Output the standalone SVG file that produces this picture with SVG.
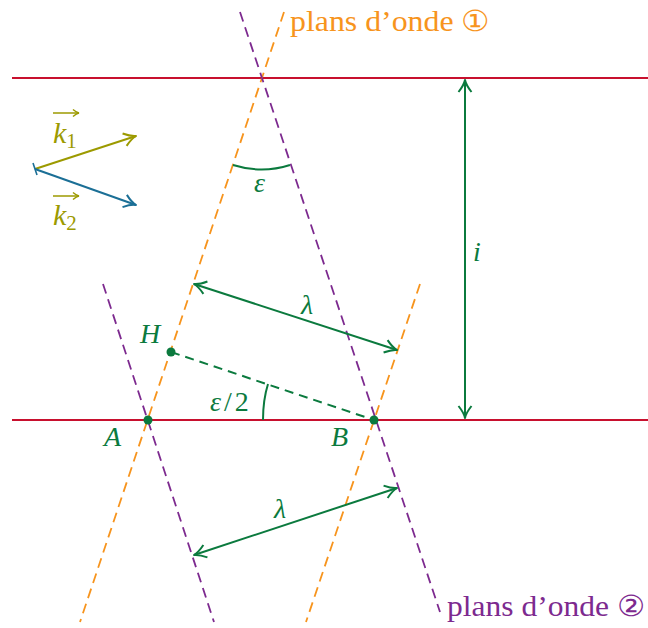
<svg xmlns="http://www.w3.org/2000/svg" width="648" height="628" viewBox="0 0 648 628">
<style>
.red{stroke:#c8102e;stroke-width:1.8;fill:none}
.or{stroke:#f7941d;stroke-width:1.8;fill:none;stroke-dasharray:10 6}
.pu{stroke:#7d2a8f;stroke-width:1.8;fill:none;stroke-dasharray:10 6}
.gr{stroke:#0b7a3e;stroke-width:2;fill:none}
.t{font-family:"Liberation Serif","DejaVu Serif",serif;font-size:29px}
.m{font-family:"Liberation Serif","DejaVu Serif",serif;font-style:italic;font-size:28px;fill:#0b7a3e}
</style>
<defs>
<marker id="ag" viewBox="-13 -8 15 16" markerWidth="15" markerHeight="16" refX="0" refY="0" orient="auto-start-reverse" markerUnits="userSpaceOnUse">
<path d="M-12,-6.5 Q-5,-1 0,0 Q-5,1 -12,6.5" fill="none" stroke="#0b7a3e" stroke-width="2" stroke-linejoin="round"/>
</marker>
<marker id="ao" viewBox="-13 -8 15 16" markerWidth="15" markerHeight="16" refX="0" refY="0" orient="auto" markerUnits="userSpaceOnUse">
<path d="M-12,-6.5 Q-5,-1 0,0 Q-5,1 -12,6.5" fill="none" stroke="#9c9a00" stroke-width="2" stroke-linejoin="round"/>
</marker>
<marker id="ab" viewBox="-13 -8 15 16" markerWidth="15" markerHeight="16" refX="0" refY="0" orient="auto" markerUnits="userSpaceOnUse">
<path d="M-12,-6.5 Q-5,-1 0,0 Q-5,1 -12,6.5" fill="none" stroke="#1b6f96" stroke-width="2" stroke-linejoin="round"/>
</marker>
<marker id="as" viewBox="-7 -5 8 10" markerWidth="8" markerHeight="10" refX="0" refY="0" orient="auto" markerUnits="userSpaceOnUse">
<path d="M-6,-3.5 Q-2.5,-0.5 0,0 Q-2.5,0.5 -6,3.5" fill="none" stroke="#9c9a00" stroke-width="1.5"/>
</marker>
</defs>

<g id="interfaces">
<line class="red" x1="12" y1="78" x2="648" y2="78"/>
<line class="red" x1="12" y1="420" x2="648" y2="420"/>
</g>

<g id="plans1">
<line class="or" x1="284" y1="12" x2="80" y2="622"/>
<line class="or" x1="420" y1="284" x2="306" y2="622"/>
<text class="t" x="290" y="31" fill="#f7941d" textLength="200" lengthAdjust="spacingAndGlyphs">plans d’onde ①</text>
</g>

<g id="plans2">
<line class="pu" x1="240" y1="12" x2="440" y2="612"/>
<line class="pu" x1="103" y1="284" x2="214" y2="622"/>
<text class="t" x="447" y="616" fill="#7d2a8f" textLength="198" lengthAdjust="spacingAndGlyphs">plans d’onde ②</text>
</g>

<g id="connectors">
<line class="gr" x1="465" y1="80" x2="465" y2="418" marker-start="url(#ag)" marker-end="url(#ag)"/>
<line class="gr" x1="194" y1="284" x2="397" y2="350" marker-start="url(#ag)" marker-end="url(#ag)"/>
<line class="gr" x1="194" y1="555" x2="397" y2="488" marker-start="url(#ag)" marker-end="url(#ag)"/>
<line class="gr" x1="171" y1="352" x2="374" y2="420" stroke-dasharray="9 6"/>
<path class="gr" d="M233,165 Q262,174 290,165"/>
<path class="gr" d="M263,420 Q263,400 268,384"/>
<line x1="35" y1="169" x2="136" y2="136" stroke="#9c9a00" stroke-width="2" marker-end="url(#ao)"/>
<line x1="35" y1="169" x2="136" y2="205" stroke="#1b6f96" stroke-width="2" marker-end="url(#ab)"/>
<line x1="33" y1="163" x2="37" y2="175" stroke="#1b6f96" stroke-width="1.6"/>
</g>

<g id="labels">
<text class="m" x="473" y="261">i</text>
<text class="m" x="301" y="314">λ</text>
<text class="m" x="274" y="518">λ</text>
<text class="m" x="254" y="192">ε</text>
<text class="m" x="210" y="411">ε<tspan font-style="normal" dx="3">/</tspan><tspan font-style="normal" dx="3">2</tspan></text>
<text class="m" x="140" y="343">H</text>
<text class="m" x="104" y="446">A</text>
<text class="m" x="331" y="446">B</text>
</g>

<g id="points" fill="#0b7a3e">
<circle cx="171" cy="352" r="4.5"/>
<circle cx="148" cy="420" r="4.5"/>
<circle cx="374" cy="420" r="4.5"/>
</g>

<g id="vectors" fill="#9c9a00">
<line x1="53" y1="113" x2="79" y2="113" stroke="#9c9a00" stroke-width="1.5" marker-end="url(#as)"/>
<text x="53" y="143" font-family="Liberation Serif, serif" font-style="italic" font-size="30">k<tspan font-style="normal" font-size="21" dy="5">1</tspan></text>
<line x1="53" y1="196" x2="79" y2="196" stroke="#9c9a00" stroke-width="1.5" marker-end="url(#as)"/>
<text x="53" y="225" font-family="Liberation Serif, serif" font-style="italic" font-size="30">k<tspan font-style="normal" font-size="21" dy="5">2</tspan></text>
</g>
</svg>
